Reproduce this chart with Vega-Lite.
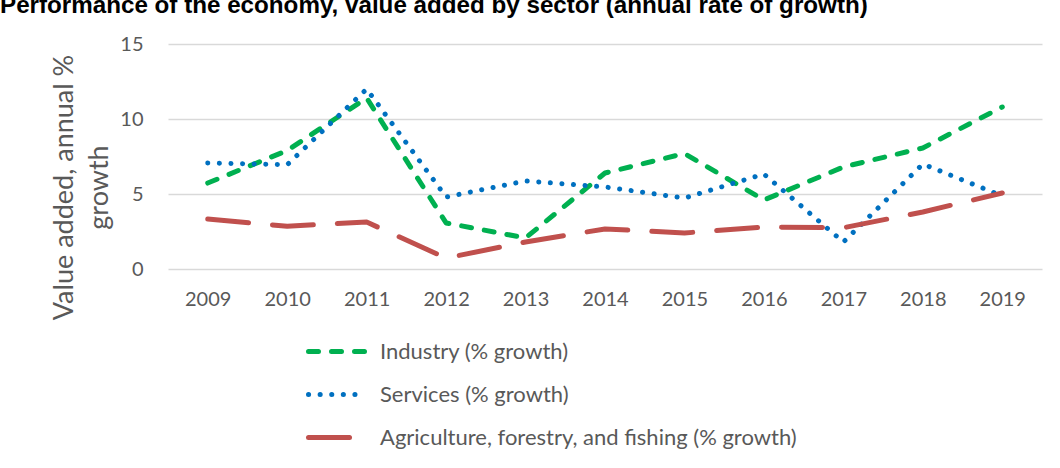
{
  "$schema": "https://vega.github.io/schema/vega-lite/v6.json",
  "width": 874,
  "height": 225,
  "autosize": {"type": "none"},
  "padding": {"left": 168, "top": 44, "right": 18, "bottom": 199},
  "background": "white",
  "title": {
    "text": "Performance of the economy, value added by sector (annual rate of growth)",
    "anchor": "start",
    "frame": "group",
    "dx": -168,
    "offset": 16,
    "font": "Liberation Sans",
    "fontSize": 24.2,
    "fontWeight": "bold",
    "color": "#000000"
  },
  "data": {
    "values": [
      {"year": "2009", "series": "Industry (% growth)", "value": 5.73},
      {"year": "2010", "series": "Industry (% growth)", "value": 7.9},
      {"year": "2011", "series": "Industry (% growth)", "value": 11.4},
      {"year": "2012", "series": "Industry (% growth)", "value": 3.07},
      {"year": "2013", "series": "Industry (% growth)", "value": 2.07},
      {"year": "2014", "series": "Industry (% growth)", "value": 6.4},
      {"year": "2015", "series": "Industry (% growth)", "value": 7.7},
      {"year": "2016", "series": "Industry (% growth)", "value": 4.6},
      {"year": "2017", "series": "Industry (% growth)", "value": 6.8},
      {"year": "2018", "series": "Industry (% growth)", "value": 8.07},
      {"year": "2019", "series": "Industry (% growth)", "value": 10.8},
      {"year": "2009", "series": "Services (% growth)", "value": 7.07},
      {"year": "2010", "series": "Services (% growth)", "value": 6.95},
      {"year": "2011", "series": "Services (% growth)", "value": 12.0},
      {"year": "2012", "series": "Services (% growth)", "value": 4.8},
      {"year": "2013", "series": "Services (% growth)", "value": 5.87},
      {"year": "2014", "series": "Services (% growth)", "value": 5.47},
      {"year": "2015", "series": "Services (% growth)", "value": 4.73},
      {"year": "2016", "series": "Services (% growth)", "value": 6.33},
      {"year": "2017", "series": "Services (% growth)", "value": 1.8},
      {"year": "2018", "series": "Services (% growth)", "value": 7.0},
      {"year": "2019", "series": "Services (% growth)", "value": 4.87},
      {"year": "2009", "series": "Agriculture, forestry, and fishing (% growth)", "value": 3.33},
      {"year": "2010", "series": "Agriculture, forestry, and fishing (% growth)", "value": 2.85},
      {"year": "2011", "series": "Agriculture, forestry, and fishing (% growth)", "value": 3.13},
      {"year": "2012", "series": "Agriculture, forestry, and fishing (% growth)", "value": 0.73},
      {"year": "2013", "series": "Agriculture, forestry, and fishing (% growth)", "value": 1.8},
      {"year": "2014", "series": "Agriculture, forestry, and fishing (% growth)", "value": 2.67},
      {"year": "2015", "series": "Agriculture, forestry, and fishing (% growth)", "value": 2.4},
      {"year": "2016", "series": "Agriculture, forestry, and fishing (% growth)", "value": 2.8},
      {"year": "2017", "series": "Agriculture, forestry, and fishing (% growth)", "value": 2.75},
      {"year": "2018", "series": "Agriculture, forestry, and fishing (% growth)", "value": 3.8},
      {"year": "2019", "series": "Agriculture, forestry, and fishing (% growth)", "value": 5.07}
    ]
  },
  "mark": {"type": "line", "strokeWidth": 5, "strokeCap": "round", "strokeJoin": "round"},
  "encoding": {
    "x": {
      "field": "year",
      "type": "ordinal",
      "scale": {"type": "point", "padding": 0.5},
      "axis": {
        "title": null,
        "labelAngle": 0,
        "ticks": false,
        "domain": false,
        "grid": false,
        "labelPadding": 20,
        "labelFont": "Lato",
        "labelFontSize": 20,
        "labelColor": "#595959"
      }
    },
    "y": {
      "field": "value",
      "type": "quantitative",
      "scale": {"domain": [0, 15], "nice": false, "zero": true},
      "axis": {
        "values": [0, 5, 10, 15],
        "grid": true,
        "gridColor": "#d9d9d9",
        "gridWidth": 1.5,
        "domain": false,
        "ticks": false,
        "labelPadding": 25,
        "labelFont": "Lato",
        "labelFontSize": 20,
        "labelColor": "#595959",
        "title": ["Value added, annual %", "growth"],
        "titleFont": "Lato",
        "titleFontSize": 27,
        "titleFontWeight": "normal",
        "titleColor": "#595959",
        "titleAngle": -90,
        "titleAlign": "center",
        "titleBaseline": "alphabetic",
        "titleLineHeight": 35,
        "titleX": -96,
        "titleY": 143
      }
    },
    "color": {
      "field": "series",
      "type": "nominal",
      "scale": {
        "domain": ["Industry (% growth)", "Services (% growth)", "Agriculture, forestry, and fishing (% growth)"],
        "range": ["#00B050", "#0070C0", "#C0504D"]
      },
      "legend": {
        "title": null,
        "orient": "none",
        "legendX": 138,
        "legendY": 276,
        "symbolType": "stroke",
        "symbolSize": 3364,
        "symbolStrokeWidth": 5,
        "labelFont": "Lato",
        "labelFontSize": 22,
        "labelColor": "#595959",
        "labelOffset": 11,
        "rowPadding": 0,
        "labelLimit": 700,
        "encode": {"symbols": {"update": {"strokeCap": {"value": "round"}}}}
      }
    },
    "strokeDash": {
      "field": "series",
      "type": "nominal",
      "scale": {
        "domain": ["Industry (% growth)", "Services (% growth)", "Agriculture, forestry, and fishing (% growth)"],
        "range": [[10, 13], [0.1, 11.5], [41, 24]]
      },
      "legend": {
        "title": null,
        "orient": "none",
        "legendX": 138,
        "legendY": 276,
        "symbolType": "stroke",
        "symbolSize": 3364,
        "symbolStrokeWidth": 5,
        "labelFont": "Lato",
        "labelFontSize": 22,
        "labelColor": "#595959",
        "labelOffset": 11,
        "rowPadding": 0,
        "labelLimit": 700,
        "encode": {"symbols": {"update": {"strokeCap": {"value": "round"}}}}
      }
    }
  },
  "config": {"view": {"stroke": null}}
}
